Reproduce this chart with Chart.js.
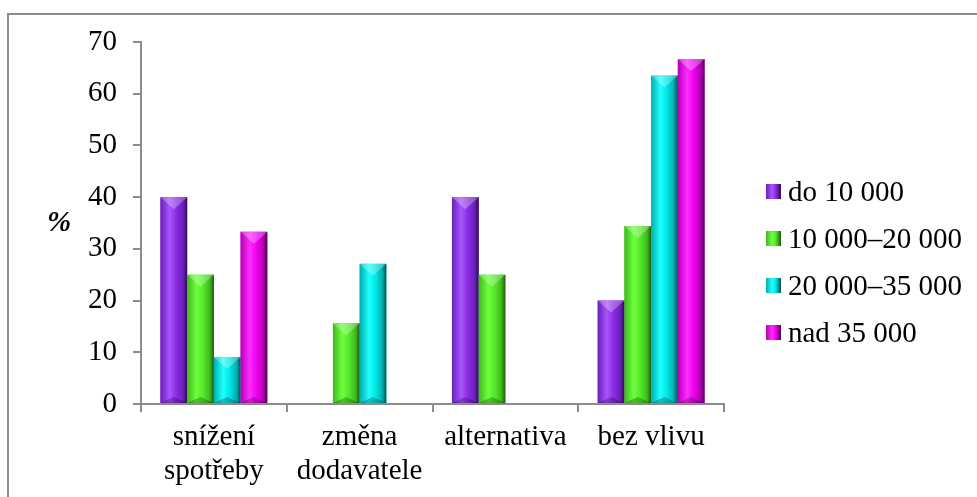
<!DOCTYPE html>
<html>
<head>
<meta charset="utf-8">
<script src="https://cdn.jsdelivr.net/npm/chart.js@4"></script>
<style>
  body { margin: 0; background: #fff; }
  #wrap { position: relative; width: 977px; height: 497px; overflow: hidden; }
  #frame { position: absolute; left: 7px; top: 13px; width: 1000px; height: 600px; border: 2px solid #8c8c8c; box-sizing: border-box; pointer-events: none; }
  #ylab { position: absolute; left: 47px; top: 205px; font: italic bold 29px "Liberation Serif", serif; }
  #legend { position: absolute; left: 766px; top: 168px; font: 29px "Liberation Serif", serif; }
  .item { height: 47px; display: flex; align-items: center; }
  .box { width: 15px; height: 15px; margin-right: 7px; }
</style>
</head>
<body>
<div id="wrap">
  <canvas id="chart" width="977" height="497"></canvas>
  <div id="frame"></div>
  <div id="ylab">%</div>
  <div id="legend"></div>
</div>
<script>
let categories = [["snížení", "spotřeby"], ["změna", "dodavatele"], "alternativa", "bez vlivu"];
let seriesNames = ["do 10 000", "10 000–20 000", "20 000–35 000", "nad 35 000"];

let do10 = [40, 0, 40, 20];
let od10do20 = [25, 15.6, 25, 34.4];
let od20do35 = [9.1, 27.1, 0, 63.5];
let nad35 = [33.3, 0, 0, 66.7];

let yTicks = [0, 10, 20, 30, 40, 50, 60, 70];

// base colour, light, dark for each series
const colors = [
  { base: "#8a2be2", light: "#a855ff", left: "#6a20b8", dark: "#2e0a55" },
  { base: "#55e82a", light: "#6cff3c", left: "#3fb81e", dark: "#1d5a0c" },
  { base: "#00e5e5", light: "#20ffff", left: "#00aeae", dark: "#004e4e" },
  { base: "#ee00ee", light: "#ff2cff", left: "#b400b4", dark: "#4a004a" }
];

// bevelled bars, painted over the library's bar rectangles
const bevelPlugin = {
  id: "bevel",
  afterDatasetsDraw(chart) {
    const ctx = chart.ctx;
    chart.data.datasets.forEach((ds, di) => {
      const c = colors[di];
      chart.getDatasetMeta(di).data.forEach(bar => {
        const p = bar.getProps(["x", "y", "base", "width"], true);
        const l = p.x - p.width / 2, r = p.x + p.width / 2;
        const t = p.y, b = p.base;
        if (b - t < 1) return;
        const g = ctx.createLinearGradient(l, 0, r, 0);
        g.addColorStop(0, c.left);
        g.addColorStop(0.35, c.light);
        g.addColorStop(0.6, c.base);
        g.addColorStop(0.85, c.left);
        g.addColorStop(1, c.dark);
        ctx.save();
        ctx.fillStyle = g;
        ctx.fillRect(l, t, r - l, b - t);
        const h = Math.min(12, (b - t) / 2);
        // top bevel
        ctx.fillStyle = "rgba(255,255,255,0.28)";
        ctx.beginPath();
        ctx.moveTo(l, t); ctx.lineTo(r, t); ctx.lineTo(p.x, t + h); ctx.closePath();
        ctx.fill();
        // bottom bevel
        ctx.fillStyle = "rgba(0,0,0,0.25)";
        ctx.beginPath();
        ctx.moveTo(l, b); ctx.lineTo(r, b); ctx.lineTo(p.x, b - Math.min(6, h)); ctx.closePath();
        ctx.fill();
        ctx.restore();
      });
    });
  }
};

const seriesData = [do10, od10do20, od20do35, nad35];

new Chart(document.getElementById("chart"), {
  type: "bar",
  data: {
    labels: categories,
    datasets: seriesData.map((d, i) => ({
      label: seriesNames[i],
      data: d,
      backgroundColor: colors[i].base,
      borderWidth: 0,
      categoryPercentage: 0.733,
      barPercentage: 1
    }))
  },
  options: {
    responsive: false,
    animation: false,
    devicePixelRatio: 1,
    layout: { padding: { top: 42, right: 253, left: 0, bottom: 0 } },
    plugins: { legend: { display: false }, tooltip: { enabled: false } },
    scales: {
      x: {
        grid: { drawOnChartArea: false, tickLength: 8, color: "#8c8c8c", lineWidth: 2 },
        border: { color: "#8c8c8c", width: 2 },
        ticks: {
          color: "#000",
          font: { family: "Liberation Serif", size: 29, lineHeight: 1.18 },
          padding: 8,
          maxRotation: 0,
          autoSkip: false
        },
        afterFit: s => { s.height = 93; }
      },
      y: {
        min: 0,
        max: 70,
        afterBuildTicks: s => { s.ticks = yTicks.map(v => ({ value: v })); },
        grid: { drawOnChartArea: false, tickLength: 8, color: "#8c8c8c", lineWidth: 2 },
        border: { color: "#8c8c8c", width: 2 },
        ticks: {
          color: "#000",
          font: { family: "Liberation Serif", size: 29 },
          padding: 16
        },
        afterFit: s => { s.width = 141; }
      }
    }
  },
  plugins: [bevelPlugin]
});

// legend
const legend = document.getElementById("legend");
seriesNames.forEach((name, i) => {
  const c = colors[i];
  const item = document.createElement("div");
  item.className = "item";
  item.innerHTML = `<span class="box" style="background:linear-gradient(90deg, ${c.left}, ${c.light} 40%, ${c.base} 65%, ${c.dark})"></span><span>${name}</span>`;
  legend.appendChild(item);
});
</script>
</body>
</html>
